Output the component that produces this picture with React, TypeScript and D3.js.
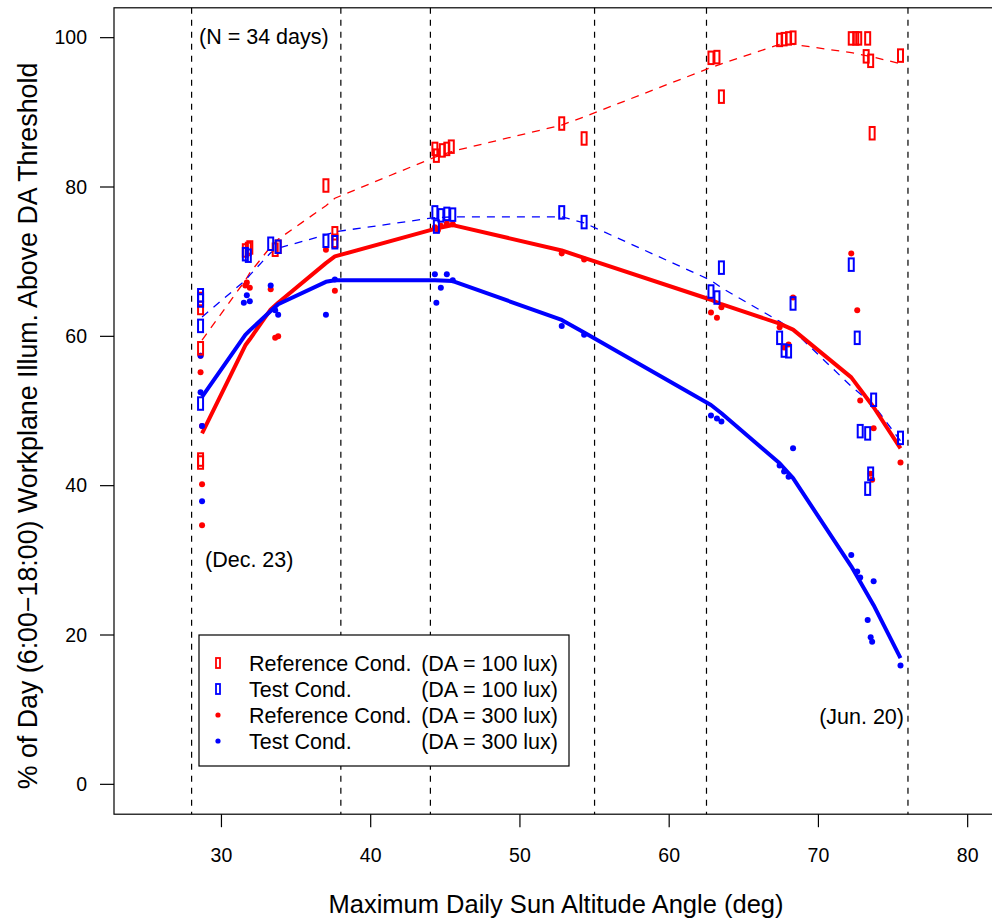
import React from 'react';
import * as d3 from 'd3';

type Pt = [number, number];

// Reference condition, DA = 100 lux (open red rectangles)
const ref100: Pt[] = [
  [28.6, 65.0], [28.6, 63.8], [28.6, 58.4], [28.6, 43.5], [28.6, 43.1],
  [31.6, 71.5], [31.9, 71.9], [31.8, 71.7],
  [33.6, 71.6], [33.8, 72.0],
  [37.0, 80.2], [37.6, 73.8], [37.6, 72.8],
  [44.3, 85.1], [44.4, 84.2], [44.8, 84.9], [45.1, 85.1], [45.4, 85.4],
  [52.8, 88.5], [54.3, 86.5],
  [62.8, 97.3], [63.2, 97.4], [63.5, 92.1],
  [67.4, 99.7], [67.7, 99.8], [68.0, 99.9], [68.3, 100.0],
  [72.2, 99.9], [72.5, 99.9], [72.7, 99.9], [73.3, 99.9], [73.2, 97.5], [73.5, 96.9], [73.6, 87.2],
  [75.5, 97.6],
];

// Test condition, DA = 100 lux (open blue rectangles)
const test100: Pt[] = [
  [28.6, 65.5], [28.6, 64.8], [28.6, 61.4], [28.6, 51.0],
  [31.6, 71.0], [31.8, 70.8],
  [33.3, 72.4], [33.8, 72.0],
  [37.0, 72.8], [37.6, 72.6],
  [44.3, 76.6], [44.7, 76.2], [45.1, 76.4], [45.5, 76.3], [44.4, 74.7],
  [52.8, 76.6], [54.3, 75.3],
  [62.8, 66.0], [63.2, 65.2], [63.5, 69.2],
  [67.4, 59.8], [67.7, 58.1], [68.0, 58.0], [68.3, 64.4],
  [72.2, 69.6], [72.6, 59.8], [73.7, 51.5], [72.8, 47.3], [73.3, 47.0], [73.5, 41.6], [73.3, 39.6],
  [75.5, 46.4],
];

// Reference condition, DA = 300 lux (red dots)
const ref300: Pt[] = [
  [28.6, 55.2], [28.7, 40.2], [28.7, 34.7], [28.6, 57.4], [28.7, 48.0],
  [31.6, 66.8], [31.7, 67.2], [31.9, 66.5],
  [33.3, 66.3], [33.6, 59.8], [33.8, 60.0],
  [37.0, 71.6], [37.6, 66.1],
  [44.5, 74.2], [45.1, 75.1], [45.5, 75.0], [44.3, 74.6], [44.7, 74.8],
  [52.8, 71.1], [54.3, 70.3],
  [62.8, 63.2], [63.2, 62.5], [63.5, 63.9],
  [67.4, 61.2], [67.7, 58.5], [68.0, 58.9], [68.3, 65.2],
  [72.2, 71.1], [72.6, 63.5], [72.8, 51.4], [73.7, 47.7], [73.5, 41.6], [73.6, 40.8],
  [75.5, 43.1],
];

// Test condition, DA = 300 lux (blue dots)
const test300: Pt[] = [
  [28.6, 57.4], [28.6, 52.5], [28.7, 48.0], [28.7, 37.9],
  [31.7, 65.5], [31.5, 64.5], [31.9, 64.7],
  [33.3, 66.8], [33.8, 62.9], [33.6, 63.5],
  [37.0, 62.9], [37.6, 67.6],
  [44.3, 68.3], [45.1, 68.3], [44.7, 66.5], [45.5, 67.5], [44.4, 64.5],
  [52.8, 61.4], [54.3, 60.2],
  [62.8, 49.4], [63.2, 49.0], [63.5, 48.6],
  [67.4, 42.7], [67.7, 41.9], [68.0, 41.2], [68.3, 45.0],
  [72.2, 30.7], [72.6, 28.5], [72.8, 27.7], [73.7, 27.2], [73.3, 22.0], [73.5, 19.7], [73.6, 19.1],
  [75.5, 15.9],
];

// Smoothed fits
const fitX = [28.7, 31.6, 31.9, 33.3, 33.8, 37.0, 37.6, 44.3, 45.5, 52.8, 54.3, 62.8, 63.5, 67.4, 68.3, 72.2, 73.7, 75.5];
const ref300Fit = [47.0, 58.8, 59.6, 63.6, 64.5, 69.8, 70.7, 74.4, 74.9, 71.5, 70.5, 64.9, 64.3, 61.7, 60.9, 54.5, 50.5, 45.0];
const test300Fit = [51.9, 60.2, 60.8, 63.4, 64.3, 67.3, 67.5, 67.5, 67.4, 62.2, 60.5, 50.8, 49.7, 43.0, 41.0, 29.2, 24.0, 16.9];
const ref100Fit = [59.5, 67.5, 68.5, 72.0, 73.0, 77.5, 78.5, 84.0, 84.8, 88.3, 89.4, 96.0, 96.5, 99.1, 99.1, 98.0, 97.4, 96.5];
const test100Fit = [62.6, 67.5, 68.2, 71.2, 71.8, 73.6, 74.0, 75.9, 76.0, 76.0, 75.2, 67.5, 66.5, 62.0, 60.8, 53.3, 50.8, 46.0];

const vLines = [28, 38, 44, 55, 62.5, 76];
const xTicks = [30, 40, 50, 60, 70, 80];
const yTicks = [0, 20, 40, 60, 80, 100];

const legendItems = [
  { label: 'Reference Cond.', da: '(DA = 100 lux)', color: '#FF0000', kind: 'rect' },
  { label: 'Test Cond.', da: '(DA = 100 lux)', color: '#0000FF', kind: 'rect' },
  { label: 'Reference Cond.', da: '(DA = 300 lux)', color: '#FF0000', kind: 'dot' },
  { label: 'Test Cond.', da: '(DA = 300 lux)', color: '#0000FF', kind: 'dot' },
];

const RED = '#FF0000';
const BLUE = '#0000FF';
const FONT = '"Liberation Sans", Arial, Helvetica, sans-serif';

export default function App() {
  const W = 992, H = 923;
  const x = d3.scaleLinear().domain([22.8, 82.2]).range([114, 1000.5]);
  const y = d3.scaleLinear().domain([-4, 104]).range([814.2, 7.8]);
  const [x0, x1] = x.range();
  const [yb, yt] = y.range();

  const line = d3.line<number>().x((_, i) => x(fitX[i])).y((d) => y(d));

  const rectW = 5, rectH = 12.5;
  const drawRects = (pts: Pt[], color: string, key: string) =>
    pts.map((p, i) => (
      <rect key={key + i} x={x(p[0]) - rectW / 2} y={y(p[1]) - rectH / 2} width={rectW} height={rectH}
        fill="none" stroke={color} strokeWidth={2} />
    ));
  const drawDots = (pts: Pt[], color: string, key: string) =>
    pts.map((p, i) => <circle key={key + i} cx={x(p[0])} cy={y(p[1])} r={3} fill={color} />);

  const lgX = 199, lgY = 635, lgW = 370, lgH = 131;
  const rowY = (i: number) => 663 + i * 26;

  return (
    <svg width={W} height={H} style={{ position: 'absolute', left: 0, top: 0, display: 'block', background: '#fff' }}
      fontFamily={FONT}>
      <rect x={0} y={0} width={W} height={H} fill="#fff" />
      {/* vertical dashed lines */}
      {vLines.map((v) => (
        <line key={'v' + v} x1={x(v)} x2={x(v)} y1={yt} y2={yb} stroke="#000" strokeWidth={1.2} strokeDasharray="6,6" />
      ))}
      {/* fitted lines */}
      <path d={line(ref100Fit) || ''} fill="none" stroke={RED} strokeWidth={1.3} strokeDasharray="8,7" />
      <path d={line(test100Fit) || ''} fill="none" stroke={BLUE} strokeWidth={1.3} strokeDasharray="8,7" />
      <path d={line(ref300Fit) || ''} fill="none" stroke={RED} strokeWidth={4} strokeLinejoin="round" />
      <path d={line(test300Fit) || ''} fill="none" stroke={BLUE} strokeWidth={4} strokeLinejoin="round" />
      {/* points */}
      {drawDots(ref300, RED, 'r3')}
      {drawDots(test300, BLUE, 't3')}
      {drawRects(ref100, RED, 'r1')}
      {drawRects(test100, BLUE, 't1')}

      {/* plot box */}
      <rect x={x0} y={yt} width={x1 - x0} height={yb - yt} fill="none" stroke="#000" strokeWidth={1.2} />

      {/* x axis */}
      {xTicks.map((t) => (
        <g key={'xt' + t}>
          <line x1={x(t)} x2={x(t)} y1={yb} y2={yb + 13} stroke="#000" strokeWidth={1.2} />
          <text x={x(t)} y={862} fontSize={19.5} textAnchor="middle">{t}</text>
        </g>
      ))}
      {/* y axis */}
      {yTicks.map((t) => (
        <g key={'yt' + t}>
          <line x1={x0 - 14} x2={x0} y1={y(t)} y2={y(t)} stroke="#000" strokeWidth={1.2} />
          <text x={87} y={y(t)} dy="0.35em" fontSize={19.5} textAnchor="end">{t}</text>
        </g>
      ))}

      {/* axis titles */}
      <text x={556} y={913} fontSize={25.5} textAnchor="middle">Maximum Daily Sun Altitude Angle (deg)</text>
      <text transform="translate(37,426) rotate(-90)" fontSize={26.8} textAnchor="middle">
        % of Day (6:00−18:00) Workplane Illum. Above DA Threshold
      </text>

      {/* annotations */}
      <text x={199} y={44} fontSize={21.5}>(N = 34 days)</text>
      <text x={205} y={567} fontSize={21.5}>(Dec. 23)</text>
      <text x={904} y={724} fontSize={21.5} textAnchor="end">(Jun. 20)</text>

      {/* legend */}
      <rect x={lgX} y={lgY} width={lgW} height={lgH} fill="#fff" stroke="#000" strokeWidth={1.2} />
      {legendItems.map((it, i) => (
        <g key={'lg' + i}>
          {it.kind === 'rect' ? (
            <rect x={218 - 2} y={rowY(i) - 5} width={4} height={10} fill="none" stroke={it.color} strokeWidth={1.8} />
          ) : (
            <circle cx={218} cy={rowY(i)} r={2.6} fill={it.color} />
          )}
          <text x={249} y={rowY(i)} dy="0.35em" fontSize={21.5}>{it.label}</text>
          <text x={558} y={rowY(i)} dy="0.35em" fontSize={21.5} textAnchor="end">{it.da}</text>
        </g>
      ))}
    </svg>
  );
}
